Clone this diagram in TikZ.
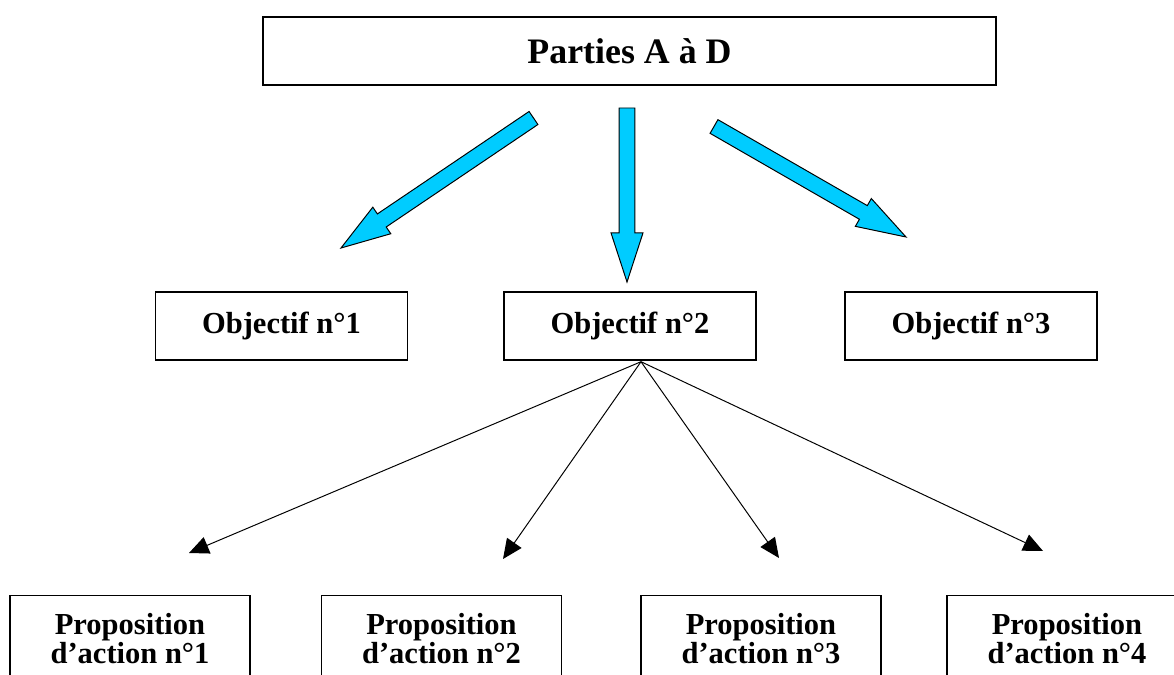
\documentclass[tikz,border=0pt]{standalone}
\usepackage{fontspec}
\setmainfont{Liberation Serif}
\usetikzlibrary{arrows.meta,calc}

\definecolor{skyblue}{RGB}{0,204,255}

\tikzset{
  box/.style={draw, line width=1pt, align=center, inner sep=0pt,
    font=\bfseries\fontsize{21.7}{20.6}\selectfont},
  objbox/.style={box, minimum width=6.3cm, minimum height=1.7cm},
  propbox/.style={box, anchor=north, minimum width=6cm, minimum height=2.15cm},
  thinarrow/.style={line width=0.7pt, -{Triangle[length=14pt,width=12.5pt]}},
  fatarrow/.style={draw=black, line width=0.7pt, fill=skyblue,
    to path={
      ($(\tikztostart)!5.6pt!90:(\tikztotarget)$)
      -- ($(\tikztotarget)!35pt!(\tikztostart)!5.6pt!-90:(\tikztostart)$)
      -- ($(\tikztotarget)!35pt!(\tikztostart)!11.4pt!-90:(\tikztostart)$)
      -- (\tikztotarget)
      -- ($(\tikztotarget)!35pt!(\tikztostart)!11.4pt!90:(\tikztostart)$)
      -- ($(\tikztotarget)!35pt!(\tikztostart)!5.6pt!90:(\tikztostart)$)
      -- ($(\tikztostart)!5.6pt!-90:(\tikztotarget)$)
      -- cycle}}
}

\begin{document}
\begin{tikzpicture}[x=0.025cm, y=-0.025cm]
\useasboundingbox (0,0) rectangle (1174,675);

\node[box, minimum width=18.325cm, minimum height=1.7cm,
  font=\bfseries\fontsize{25.5}{30}\selectfont] (parties) at (629.5,51) {Parties A à D};

\node[objbox] (obj1) at (281.5,326) {Objectif n°1};
\node[objbox] (obj2) at (630,326) {Objectif n°2};
\node[objbox] (obj3) at (971,326) {Objectif n°3};

\node[propbox] (prop1) at (130,595) {Proposition\\d’action n°1};
\node[propbox] (prop2) at (441.5,595) {Proposition\\d’action n°2};
\node[propbox] (prop3) at (761,595) {Proposition\\d’action n°3};
\node[propbox] (prop4) at (1067,595) {Proposition\\d’action n°4};

\coordinate (tail1) at (533.5,118);
\coordinate (head1) at (341,248);
\coordinate (tail2) at (627,108);
\coordinate (head2) at (627,282);
\coordinate (tail3) at (714,126.5);
\coordinate (head3) at (906,237);

\draw[fatarrow] (tail1) to (head1);
\draw[fatarrow] (tail2) to (head2);
\draw[fatarrow] (tail3) to (head3);

\coordinate (hub) at ($(obj2.south)+(11,1)$);
\coordinate (tip1) at (189,553);
\coordinate (tip2) at (503,559);
\coordinate (tip3) at (779,558);
\coordinate (tip4) at (1043,551);

\foreach \i in {1,...,4}
  \draw[thinarrow] (hub) -- (tip\i);
\end{tikzpicture}
\end{document}
